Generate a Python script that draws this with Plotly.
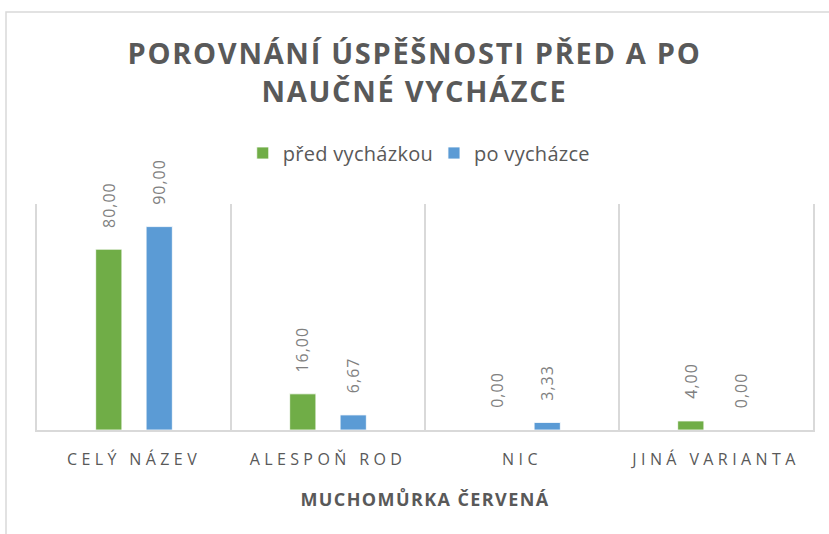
import plotly.graph_objects as go

categories = ["CELÝ NÁZEV", "ALESPOŇ ROD", "NIC", "JINÁ VARIANTA"]
pred_vychazkou = [80.00, 16.00, 0.00, 4.00]
po_vychazce = [90.00, 6.67, 3.33, 0.00]
series_names = ["před vycházkou", "po vycházce"]
series_colors = ["#70AD47", "#5B9BD5"]
title_text = "POROVNÁNÍ ÚSPĚŠNOSTI PŘED A PO<br>NAUČNÉ VYCHÁZCE"
xaxis_title = "MUCHOMŮRKA ČERVENÁ"

GRAY = "#595959"
LABEL_GRAY = "#808080"
W, H = 829, 534
ML, MR, MT, MB = 37, 16, 204, 104
BARGAP, BARGROUPGAP = 0.48, 0.48

fig = go.Figure()
all_series = [pred_vychazkou, po_vychazce]
for name, vals, col in zip(series_names, all_series, series_colors):
    fig.add_trace(go.Bar(
        x=categories, y=vals, name=name,
        marker=dict(color=col, line=dict(color="white", width=0.8)),
        hoverinfo="x+y+name",
    ))

# data labels (rotated, placed above each bar)
plot_w = W - ML - MR
cat_px = plot_w / len(categories)
slot_px = cat_px * (1 - BARGAP) / len(all_series)
annotations = []
for si, vals in enumerate(all_series):
    xshift = (si - (len(all_series) - 1) / 2) * slot_px
    for cat, v in zip(categories, vals):
        annotations.append(dict(
            x=cat, y=v, xref="x", yref="y", text=f"{v:.2f}".replace(".", ","),
            showarrow=False, textangle=-90, xanchor="center", yanchor="bottom",
            xshift=xshift, yshift=22,
            font=dict(family="Open Sans", size=16, color=LABEL_GRAY),
        ))

fig.update_layout(
    width=W, height=H,
    margin=dict(l=ML, r=MR, t=MT, b=MB),
    paper_bgcolor="white", plot_bgcolor="white",
    separators=", ",
    barmode="group", bargap=BARGAP, bargroupgap=BARGROUPGAP,
    title=dict(
        text=title_text,
        x=0.5, xref="container", xanchor="center",
        y=0.88, yref="container", yanchor="top",
        font=dict(family="Open Sans", size=29, color=GRAY, weight="bold"),
    ),
    legend=dict(
        orientation="h", x=0.49, xanchor="center", xref="paper",
        y=1.2257, yanchor="middle", yref="paper",
        font=dict(family="Open Sans", size=20, color=GRAY),
        traceorder="normal",
    ),
    xaxis=dict(
        tickson="boundaries", showgrid=True, gridcolor="#d9d9d9", gridwidth=1.5,
        showline=True, linecolor="#d9d9d9", linewidth=1.5,
        ticks="", ticklabelstandoff=14,
        tickfont=dict(family="Open Sans", size=16, color=GRAY),
        title=dict(text=xaxis_title, standoff=24,
                   font=dict(family="Open Sans", size=18, color=GRAY, weight="bold")),
    ),
    yaxis=dict(range=[0, 100], showgrid=False, zeroline=False,
               showline=True, mirror=True, linecolor="#d9d9d9", linewidth=1.5,
               showticklabels=False, ticks=""),
    annotations=annotations,
    shapes=[dict(type="rect", xref="paper", yref="paper",
                 x0=(6 - ML) / plot_w, x1=1.2, y0=-0.8,
                 y1=(H - MB - 12) / (H - MT - MB),
                 line=dict(color="#d9d9d9", width=1.5), layer="below")],
)

post = """
document.body.style.margin = '0';
var gd = document.getElementById('{plot_id}');
function sp(sel, v) { gd.querySelectorAll(sel).forEach(function (t) { t.style.letterSpacing = v; }); }
sp('.gtitle', '1.7px');
sp('.xtick text', '4.4px');
sp('.annotation-text', '1px');
sp('.xtitle', '1.4px');
sp('.legendtext', '0.3px');
"""

fig.write_html("out.html", post_script=post, config={"displayModeBar": False})
